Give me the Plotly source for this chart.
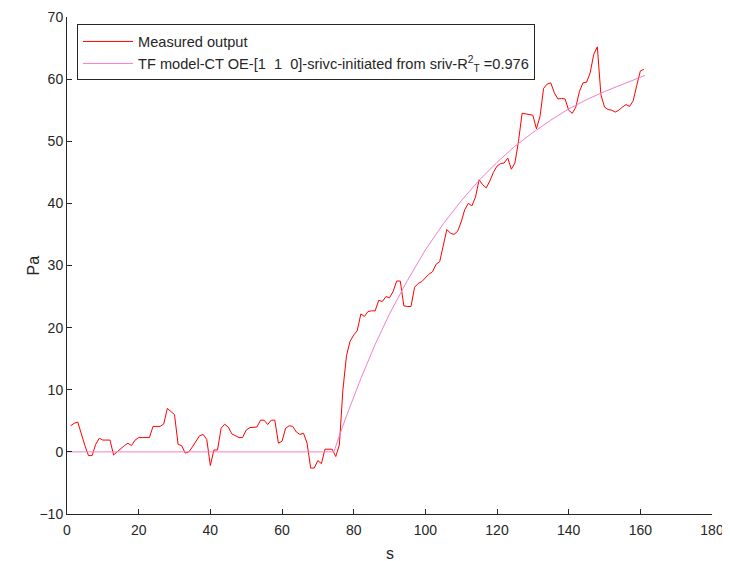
import numpy as np
import plotly.graph_objects as go

# Measured output, sampled every second from t = 1 s to t = 161 s
t_meas = list(range(1, 162))
measured = [
    4.2, 4.6, 4.8, 2.8, 1.0, -0.6, -0.6, 1.2, 2.2, 1.9,
    1.9, 1.9, -0.5, 0.0, 0.6, 1.0, 1.4, 1.0, 1.9, 2.3,
    2.3, 2.3, 2.3, 4.1, 4.1, 4.1, 4.5, 7.0, 6.5, 6.0,
    1.2, 1.0, -0.2, 0.0, 0.8, 1.8, 2.6, 2.8, 2.0, -2.2,
    0.3, 0.3, 3.8, 4.45, 4.0, 2.9, 2.6, 2.3, 2.3, 3.5,
    3.9, 4.0, 4.0, 5.1, 5.1, 4.4, 5.1, 5.1, 1.4, 1.7,
    3.8, 4.2, 4.1, 3.2, 2.8, 3.0, 1.4, -2.6, -2.6, -1.4,
    -1.9, 0.43, 0.43, 0.43, -0.75, 1.1, 10.0, 15.5, 17.8, 18.8,
    19.5, 22.2, 21.8, 22.6, 22.7, 22.7, 24.4, 24.2, 25.0, 24.8,
    25.8, 27.5, 27.5, 23.5, 23.4, 23.4, 26.5, 27.1, 27.4, 28.0,
    28.6, 29.0, 30.2, 30.6, 33.0, 35.8, 35.2, 35.0, 35.5, 37.0,
    39.0, 40.0, 39.6, 41.0, 43.8, 43.0, 42.5, 43.6, 45.0, 46.0,
    46.4, 46.5, 47.3, 45.5, 46.5, 50.0, 54.5, 54.4, 54.3, 54.2,
    52.0, 54.0, 58.5, 59.2, 59.4, 57.8, 56.8, 56.9, 56.8, 55.0,
    54.5, 55.5, 58.0, 59.4, 59.5, 61.0, 64.0, 65.2, 57.5, 55.5,
    55.1, 55.0, 54.7, 55.0, 55.5, 55.9, 55.6, 56.5, 59.0, 61.3,
    61.6,
]

# Model response
t_model = [0, 74.5, 76, 78, 82, 86, 90, 95, 100, 105, 110, 115, 120,
           125, 130, 135, 140, 145, 150, 155, 161.3]
model = [0, 0, 2.6, 5.8, 11.8, 17.3, 22.2, 27.6, 32.5, 36.7, 40.4, 43.7,
         46.6, 49.2, 51.4, 53.4, 55.2, 56.7, 58.0, 59.2, 60.6]

x_ticks = list(range(0, 181, 20))
y_ticks = list(range(-10, 71, 10))

FONT = "Liberation Sans, Arial, Helvetica, sans-serif"
INK = "#262626"

fig = go.Figure()
fig.add_trace(go.Scatter(x=t_meas, y=measured, mode="lines",
                         line=dict(color="#FF0000", width=1),
                         name="Measured output"))
fig.add_trace(go.Scatter(x=t_model, y=model, mode="lines",
                         line=dict(color="#F27FCB", width=1),
                         name="TF model-CT OE-[1\u00a0\u00a01\u00a0\u00a00]-srivc-initiated from sriv-R<sup>2</sup><sub>T</sub> =0.976"))

axis_common = dict(showgrid=False, zeroline=False, showline=True,
                   linecolor=INK, linewidth=1, ticks="inside", ticklen=5,
                   tickcolor=INK, tickfont=dict(family=FONT, size=14, color=INK),
                   mirror=False, automargin=False)

# page body has an 8px margin, so the figure is drawn offset by (8, 8)
fig.update_layout(
    width=730, height=561,
    margin=dict(l=59, r=26, t=9, b=55),
    paper_bgcolor="white", plot_bgcolor="white",
    font=dict(family=FONT, color=INK),
    xaxis=dict(range=[0, 180], tickvals=x_ticks, ticklabelstandoff=3,
               **axis_common),
    yaxis=dict(range=[-10, 70], tickvals=y_ticks, **axis_common),
    legend=dict(x=10 / 645, y=0.985, xanchor="left", yanchor="top",
                itemwidth=50,
                bgcolor="white", bordercolor=INK, borderwidth=1,
                font=dict(family=FONT, size=14.6, color=INK)),
    showlegend=True,
    annotations=[
        dict(text="s", xref="paper", yref="paper", x=0.5, y=0,
             xanchor="center", yanchor="middle", yshift=-39, showarrow=False,
             font=dict(family=FONT, size=16, color=INK)),
        dict(text="Pa", xref="paper", yref="paper", x=0, y=0.5,
             xanchor="center", yanchor="middle", xshift=-34, textangle=-90,
             showarrow=False, font=dict(family=FONT, size=16, color=INK)),
    ],
)

fig.write_html("out.html")
